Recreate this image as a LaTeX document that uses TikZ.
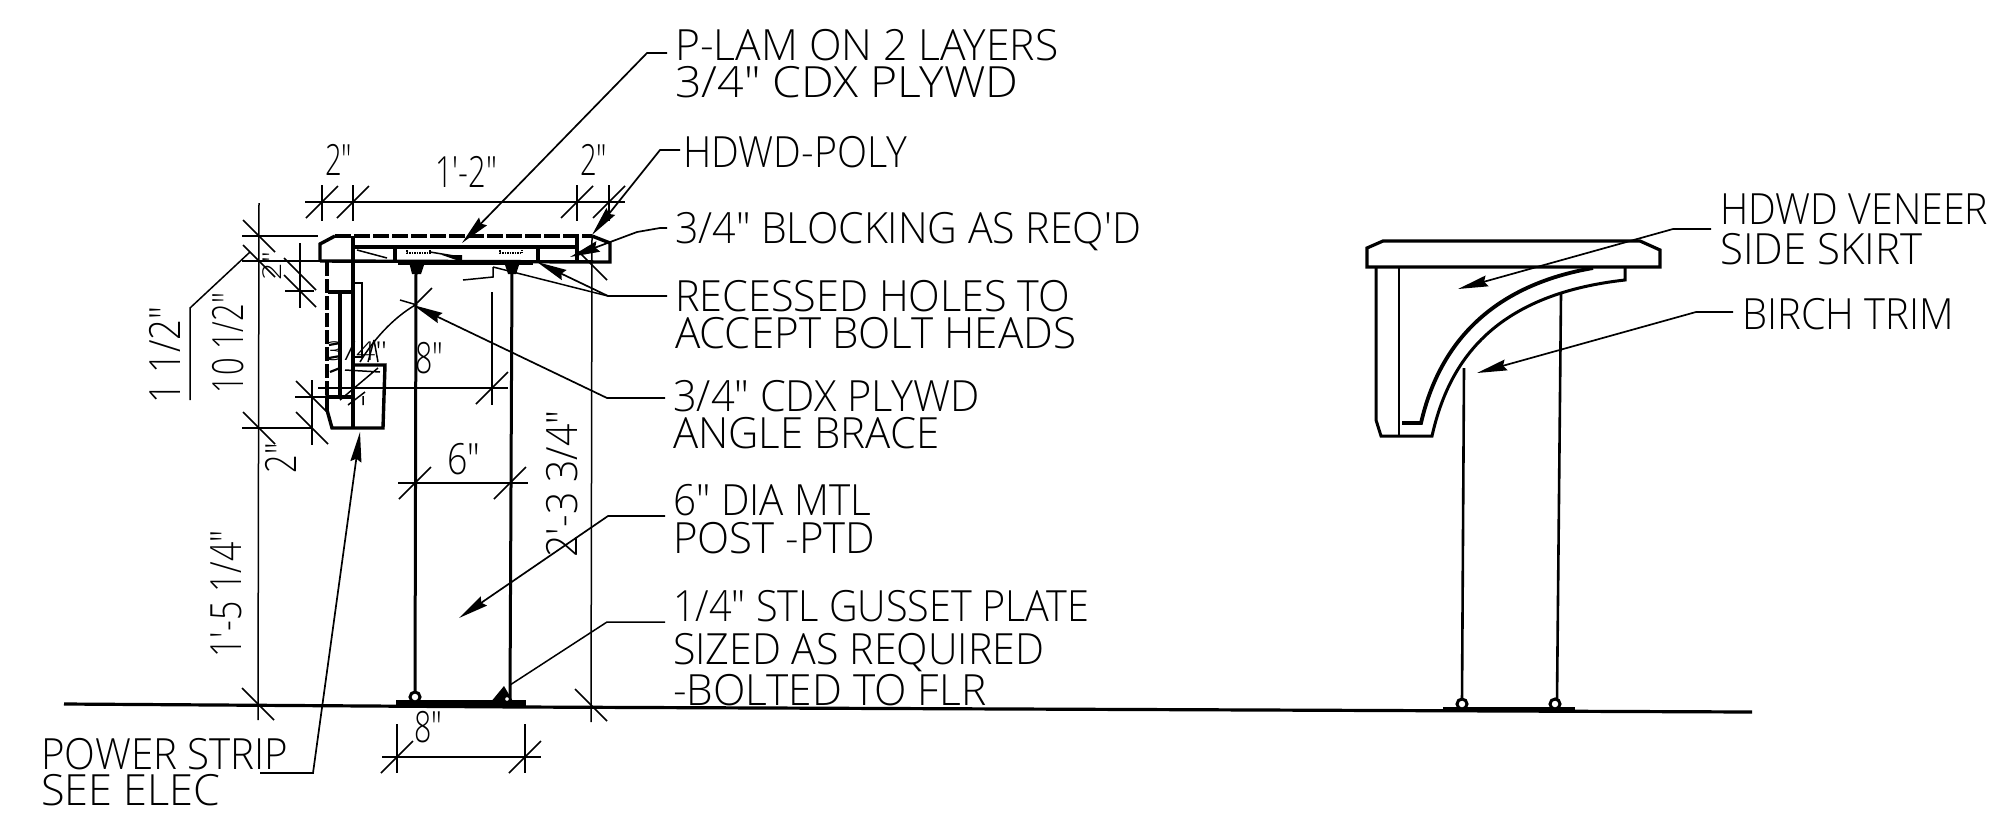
\documentclass[tikz,border=0pt]{standalone}
\usepackage{fontspec}
\usepackage{graphicx}
\usetikzlibrary{arrows.meta}
\newfontfamily\cad[UprightFont=* Light]{Open Sans}
\newcommand\lab[6][0]{\node[inner sep=0pt,anchor=base,rotate=#1] (#2) at (#3,#4) {\resizebox{#5pt}{\height}{\fontsize{43pt}{43pt}\cad #6}};}
\newcommand\labl[5]{\node[inner sep=0pt,anchor=base west] (#1) at (#2,#3) {\resizebox{#4pt}{\height}{\fontsize{43pt}{43pt}\cad #5}};}
\tikzset{
 thin line/.style={line width=1.5pt,black},
 mid line/.style={line width=2.2pt,black},
 heavy/.style={line width=3.4pt,black,line join=miter},
 dashline/.style={line width=3.4pt,black,dash pattern=on 16pt off 3pt},
 tick/.style={line width=1.6pt,black},
 leader/.style={line width=1.7pt,black,-{Stealth[length=30pt,width=11pt,inset=3pt]}},
}
\newcommand\tks[2]{\draw[tick] (#1-16,#2+16) -- (#1+16,#2-16);}
\newcommand\tkb[2]{\draw[tick] (#1-16,#2-16) -- (#1+16,#2+16);}
\begin{document}
\begin{tikzpicture}[x=1pt,y=-1pt]
\useasboundingbox (0,0) rectangle (2009,812);
% floor
\draw[line width=3.2pt] (64,704) -- (520,707) -- (1752,712);
% --- left section: top
\draw[heavy] (320,261) -- (320,244) -- (335,236);
\draw[dashline] (335,236) -- (592,236);
\draw[heavy] (592,236) -- (610,243) -- (610,262) -- (320,261);
\draw[heavy] (353,236) -- (353,428);
\draw[heavy] (353,247) -- (577,247);
\draw[heavy] (577,236) -- (577,262);
\draw[heavy] (395,247) -- (395,262);
\draw[heavy] (538,247) -- (538,262);
\draw[line width=5pt] (398,262) -- (533,262);
% bolts and posts
\draw[thin line,densely dotted] (407,250) -- (407,253) -- (430,253) -- (430,250);
\draw[thin line,densely dotted] (500,250) -- (500,253) -- (522,253) -- (522,250);
\fill (409,262) -- (425,262) -- (421,274) -- (412,274) -- cycle;
\fill (504,262) -- (520,262) -- (516,274) -- (508,274) -- cycle;
\draw[line width=3pt] (416,272) -- (415,700);
\draw[line width=3pt] (512,272) -- (510,700);
% skirt
\draw[dashline,dash pattern=on 14pt off 3pt] (327,262) -- (327,410);
\draw[heavy] (327,390) -- (327,410) -- (332,428) -- (383,428) -- (385,365) -- (353,365);
\draw[heavy] (328,292) -- (353,292);
\draw[heavy] (340,292) -- (340,397);
\draw[heavy] (327,397) -- (353,397);
\draw[thin line] (355,283) -- (362,283) -- (362,357) -- (355,357);
\draw[mid line] (329,345) -- (340,343) (329,358) -- (340,356) (330,372) -- (340,368);
\draw[thin line] (345,370) -- (380,372) (340,400) -- (378,368) (348,405) -- (365,392) (363,396) -- (363,405);
% bases
\fill (396,700) rectangle (526,706);
\draw[line width=3pt,fill=white] (415,697) circle (5);
\fill (490,703) -- (504,686) -- (514,703) -- cycle;
\draw[line width=2pt,fill=white] (507,699) circle (3);
% dimension lines
\draw[thin line] (305,202) -- (625,202);
\foreach \x in {322,353,577,609} {\draw[thin line] (\x,185) -- (\x,221); \tks{\x}{202}}
\draw[thin line] (592,236) -- (591,722);
\tkb{591}{264}\tkb{591}{705}
\draw[thin line] (259,203) -- (258,720);
\draw[thin line] (242,236) -- (318,236);
\draw[thin line] (242,261) -- (320,261);
\draw[thin line] (242,428) -- (312,428);
\tkb{259}{236}\tkb{259}{261}\tkb{259}{428}\tkb{258}{704}
\draw[thin line] (300,243) -- (300,308);
\draw[thin line] (285,291) -- (314,291);
\tkb{300}{274}\tkb{300}{291}
\draw[thin line] (312,380) -- (312,445);
\draw[thin line] (295,397) -- (327,397);
\tkb{312}{397}\tkb{312}{428}
% 8" radial
\draw[thin line] (492,292) -- (492,405);
\draw[thin line] (318,388) -- (508,388);
\tks{492}{388}
\draw[thin line] (432,288) -- (417,303);
\draw[thin line] (400,300) -- (417,305);
\draw[thin line] (417,304) .. controls (392,318) and (372,342) .. (360,362);
\draw[thin line] (374,340) -- (368,362) (374,340) -- (378,362);
% 6", 8" floor
\draw[thin line] (398,483) -- (528,483);
\tks{415}{483}\tks{510}{483}
\draw[thin line] (397,724) -- (397,773);
\draw[thin line] (525,724) -- (525,773);
\draw[thin line] (382,757) -- (541,757);
\tks{397}{757}\tks{525}{757}
% 1 1/2 leader
\draw[thin line] (190,400) -- (190,308) -- (250,252);
% misc leader details
\draw[thin line] (357,250) -- (387,258);
\draw[thin line] (430,252) -- (460,257);
\fill (442,255) -- (462,255) -- (462,262) -- cycle;
\draw[thin line] (493,267) -- (493,277) -- (463,280);
% --- labels
\labl{t1}{675}{60}{383}{P-LAM ON 2 LAYERS}
\labl{t2}{675}{97}{343}{3/4" CDX PLYWD}
\labl{t3}{683}{167}{224}{HDWD-POLY}
\labl{t4}{675}{243}{466}{3/4" BLOCKING AS REQ'D}
\labl{t5}{675}{311}{395}{RECESSED HOLES TO}
\labl{t6}{675}{348}{401}{ACCEPT BOLT HEADS}
\labl{t7}{673}{411}{307}{3/4" CDX PLYWD}
\labl{t8}{673}{448}{266}{ANGLE BRACE}
\labl{t9}{673}{515}{198}{6" DIA MTL}
\labl{t10}{673}{553}{202}{POST -PTD}
\labl{t11}{673}{621}{416}{1/4" STL GUSSET PLATE}
\labl{t12}{673}{664}{371}{SIZED AS REQUIRED}
\labl{t13}{673}{705}{313}{-BOLTED TO FLR}
\labl{t14}{41}{769}{247}{POWER STRIP}
\labl{t15}{41}{805}{179}{SEE ELEC}
\labl{t16}{1720}{224}{268}{HDWD VENEER}
\labl{t17}{1720}{264}{202}{SIDE SKIRT}
\labl{t18}{1742}{329}{212}{BIRCH TRIM}
\labl{d1}{325}{175}{27}{2"}
\labl{d2}{435}{187}{62}{1'-2"}
\labl{d3}{580}{175}{27}{2"}
\labl{d4}{415}{373}{28}{8"}
\labl{d5}{447}{474}{33}{6"}
\labl{d6}{414}{742}{28}{8"}
\lab[90]{d7}{241}{594}{127}{1'-5 1/4"}
\lab[90]{d8}{243}{343}{100}{10 1/2"}
\lab[90]{d9}{180}{355}{97}{1 1/2"}
\lab[90]{d10}{296}{458}{30}{2"}
\lab[90]{d11}{577}{484}{147}{2'-3 3/4"}
\node[inner sep=0pt,anchor=base,rotate=90] (d12) at (281,266) {\resizebox{28pt}{\height}{\fontsize{26pt}{26pt}\cad 2"}};
\node[inner sep=0pt,anchor=base west] (d13) at (325,360) {\resizebox{62pt}{\height}{\fontsize{26pt}{26pt}\cad 3/4"}};
% --- leaders
\coordinate (p1) at (462,243); \coordinate (b1) at (647,53);
\draw[leader] (t1.west |- 0,53) ++(-8,0) -- (b1) -- (p1);
\coordinate (p3) at (592,235); \coordinate (b3) at (660,150);
\draw[leader] (t3.west |- 0,150) ++(-3,0) -- (b3) -- (p3);
\coordinate (p4) at (570,257); \coordinate (b4) at (637,232);
\draw[leader] (t4.west |- 0,228) ++(-8,0) -- (660,228) -- (b4) -- (p4);
\coordinate (p5) at (537,262); \coordinate (b5) at (608,296);
\draw[leader] (t5.west |- 0,296) ++(-8,0) -- (b5) -- (p5);
\draw[thin line] (b5) -- (493,267);
\coordinate (p7) at (413,305); \coordinate (b7) at (607,398);
\draw[leader] (t7.west |- 0,398) ++(-8,0) -- (b7) -- (p7);
\coordinate (p9) at (459,618); \coordinate (b9) at (608,516);
\draw[leader] (t9.west |- 0,516) ++(-8,0) -- (b9) -- (p9);
\coordinate (p11) at (510,685); \coordinate (b11) at (607,622);
\draw[thin line] (t11.west |- 0,622) ++(-8,0) -- (b11) -- (p11);
\coordinate (p14) at (360,432); \coordinate (b14) at (313,773);
\draw[leader] (260,773) -- (b14) -- (p14);
% --- right elevation
\draw[line width=3.2pt,line join=miter] (1367,267) -- (1367,248) -- (1383,241) -- (1640,241) -- (1660,250) -- (1660,267) -- cycle;
\draw[line width=3pt] (1376,267) -- (1376,420) -- (1381,436) -- (1432,436) .. controls (1448,365) and (1490,295) .. (1625,280) -- (1625,268);
\draw[line width=3.8pt] (1402,423) -- (1421,423) .. controls (1440,340) and (1495,285) .. (1593,268);
\draw[line width=2.8pt] (1399,267) -- (1399,436);
\draw[line width=2.6pt] (1464,368) -- (1462,700);
\draw[line width=2.6pt] (1561,293) -- (1557,700);
\fill (1443,707) rectangle (1575,712);
\draw[line width=3pt,fill=white] (1462,704) circle (5);
\draw[line width=3pt,fill=white] (1555,704) circle (5);
\coordinate (p16) at (1458,289); \coordinate (b16) at (1673,229);
\draw[leader] (t16.west |- 0,229) ++(-9,0) -- (b16) -- (p16);
\coordinate (p18) at (1477,373); \coordinate (b18) at (1696,312);
\draw[leader] (t18.west |- 0,312) ++(-9,0) -- (b18) -- (p18);
\end{tikzpicture}
\end{document}
